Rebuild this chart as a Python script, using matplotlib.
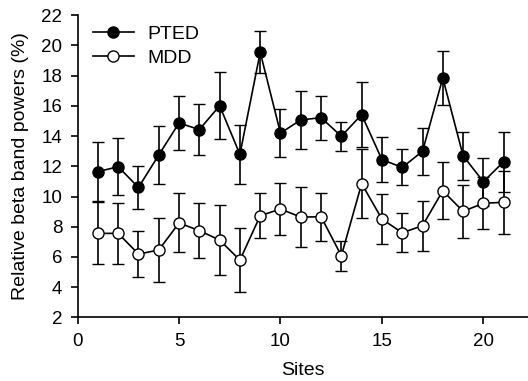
import matplotlib
matplotlib.use("Agg")
import matplotlib.pyplot as plt
import numpy as np

plt.rcParams["font.family"] = ["Liberation Sans", "DejaVu Sans"]

sites = np.arange(1, 22)
pted_mean = [11.65, 11.97, 10.6, 12.75, 14.87, 14.43, 16.01, 12.79, 19.55, 14.2,
             15.07, 15.22, 13.99, 15.42, 12.44, 11.93, 12.99, 17.85, 12.7, 10.98, 12.3]
pted_err = [1.95, 1.9, 1.4, 1.95, 1.8, 1.7, 2.2, 1.95, 1.4, 1.6,
            1.9, 1.45, 0.95, 2.15, 1.5, 1.2, 1.55, 1.8, 1.6, 1.6, 2.0]
mdd_mean = [7.56, 7.56, 6.19, 6.46, 8.25, 7.74, 7.12, 5.79, 8.73, 9.17,
            8.64, 8.66, 6.08, 10.85, 8.51, 7.6, 8.07, 10.38, 9.02, 9.55, 9.62]
mdd_err = [2.05, 2.0, 1.5, 2.1, 1.95, 1.8, 2.3, 2.1, 1.5, 1.7,
           2.0, 1.6, 1.0, 2.3, 1.65, 1.3, 1.65, 1.9, 1.75, 1.72, 2.1]

fig = plt.figure(figsize=(5.28, 3.81), dpi=100)
ax = fig.add_axes([0.147, 0.167, 0.853, 0.793])

common = dict(color="black", linewidth=1.2, elinewidth=1.2, capsize=4.5,
              capthick=1.2, markersize=8, markeredgewidth=1.0, clip_on=False)
ax.errorbar(sites, pted_mean, yerr=pted_err, marker="o", markerfacecolor="black",
            markeredgecolor="black", label="PTED", zorder=3, **common)
ax.errorbar(sites, mdd_mean, yerr=mdd_err, marker="o", markerfacecolor="white",
            markeredgecolor="black", label="MDD", zorder=3, **common)

ax.set_xlim(0, 22.2)
ax.set_ylim(2, 22)
ax.set_xticks([0, 5, 10, 15, 20])
ax.set_yticks(np.arange(2, 23, 2))
ax.spines["top"].set_visible(False)
ax.spines["right"].set_visible(False)
ax.spines["left"].set_linewidth(1.2)
ax.spines["bottom"].set_linewidth(1.2)
ax.tick_params(direction="out", length=5, width=1.2, labelsize=13.5, pad=6)
ax.set_xlabel("Sites", fontsize=14, labelpad=9)
ax.set_ylabel("Relative beta band powers (%)", fontsize=14, labelpad=9)

handles, labels = ax.get_legend_handles_labels()
handles = [h[0] for h in handles]
ax.legend(handles, labels, loc="upper left", frameon=False, fontsize=14,
          handlelength=2.1, handletextpad=0.7, labelspacing=0.35,
          bbox_to_anchor=(0.034, 0.967), borderaxespad=0, borderpad=0)

fig.savefig("out.png", dpi=100)
